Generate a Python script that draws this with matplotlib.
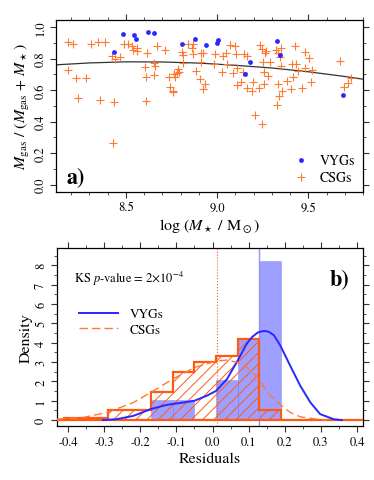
import numpy as np
import matplotlib.pyplot as plt
from matplotlib.ticker import MultipleLocator

plt.rcParams['font.family'] = ['STIXGeneral', 'DejaVu Serif']
plt.rcParams['mathtext.fontset'] = 'stix'
plt.rcParams['axes.unicode_minus'] = False

# --- panel a) data ---
vyg_logm = [8.433, 8.485, 8.542, 8.553, 8.619, 8.652, 8.807, 8.878,
            8.936, 8.998, 9.005, 9.155, 9.179, 9.330, 9.345, 9.692]
vyg_frac = [0.843, 0.958, 0.947, 0.924, 0.966, 0.962, 0.889, 0.924,
            0.884, 0.899, 0.916, 0.702, 0.780, 0.912, 0.824, 0.566]

csg_logm = [8.181, 8.208, 8.308, 8.348, 8.385, 8.425, 8.440, 8.467, 8.491, 8.509,
            8.531, 8.540, 8.181, 8.226, 8.281, 8.236, 8.358, 8.436, 8.429, 8.562,
            8.562, 8.613, 8.671, 8.715, 8.805, 8.814, 8.838, 8.865, 8.861, 8.868,
            8.909, 8.923, 8.653, 8.659, 8.604, 8.814, 8.909, 8.608, 8.653, 8.737,
            8.768, 8.763, 8.786, 8.790, 8.778, 8.741, 8.759, 8.756, 8.883, 8.905,
            8.934, 8.920, 8.609, 8.987, 9.033, 9.047, 9.069, 9.097, 9.102, 9.148,
            9.166, 9.233, 9.243, 9.261, 9.270, 9.325, 9.334, 9.352, 8.983, 9.051,
            9.109, 9.029, 9.087, 9.142, 9.252, 9.257, 9.288, 9.279, 9.348, 9.106,
            9.133, 9.161, 9.197, 9.193, 9.228, 9.257, 9.334, 9.355, 9.330, 9.208,
            9.243, 9.339, 9.425, 9.480, 9.503, 9.412, 9.434, 9.443, 9.480, 9.520,
            9.416, 9.380, 9.516, 9.467, 9.407, 9.671, 9.717, 9.735, 9.695, 9.343]
csg_frac = [0.903, 0.893, 0.889, 0.903, 0.903, 0.819, 0.794, 0.811, 0.889, 0.889,
            0.878, 0.851, 0.725, 0.677, 0.677, 0.549, 0.536, 0.526, 0.264, 0.865,
            0.847, 0.836, 0.882, 0.851, 0.840, 0.821, 0.889, 0.893, 0.864, 0.830,
            0.832, 0.832, 0.774, 0.752, 0.746, 0.769, 0.777, 0.686, 0.694, 0.686,
            0.686, 0.700, 0.731, 0.714, 0.711, 0.620, 0.589, 0.595, 0.721, 0.673,
            0.637, 0.606, 0.530, 0.830, 0.819, 0.836, 0.884, 0.882, 0.826, 0.830,
            0.819, 0.884, 0.862, 0.836, 0.845, 0.853, 0.836, 0.868, 0.767, 0.767,
            0.738, 0.717, 0.711, 0.714, 0.777, 0.717, 0.780, 0.689, 0.752, 0.633,
            0.652, 0.612, 0.652, 0.595, 0.612, 0.637, 0.637, 0.595, 0.505, 0.442,
            0.386, 0.564, 0.882, 0.843, 0.805, 0.763, 0.767, 0.721, 0.742, 0.727,
            0.686, 0.658, 0.654, 0.616, 0.610, 0.784, 0.648, 0.679, 0.620, 0.811]

fit_logm = [8.117, 8.3, 8.5, 8.7, 8.9, 9.1, 9.3, 9.5, 9.7, 9.8]
fit_frac = [0.760, 0.772, 0.779, 0.778, 0.771, 0.757, 0.740, 0.716, 0.686, 0.669]

# --- panel b) data ---
bin_edges = [-0.41, -0.35, -0.29, -0.23, -0.17, -0.11, -0.05, 0.01, 0.07, 0.13, 0.19]
csg_density = [0.12, 0.12, 0.54, 0.54, 1.43, 2.47, 3.0, 3.29, 4.2, 0.54]
vyg_density = [0, 0, 0, 0, 1.04, 1.04, 0, 2.08, 4.17, 8.22]

vyg_kde_x = [-0.304, -0.265, -0.219, -0.171, -0.126, -0.080, -0.050, -0.016, 0.010,
             0.040, 0.069, 0.095, 0.110, 0.125, 0.137, 0.147, 0.157, 0.170, 0.188,
             0.215, 0.243, 0.271, 0.298, 0.335, 0.358]
vyg_kde_y = [0.0, 0.05, 0.22, 0.57, 0.79, 0.91, 1.0, 1.26, 1.51, 2.12, 3.06, 3.95,
             4.30, 4.52, 4.59, 4.60, 4.55, 4.38, 3.84, 2.81, 1.77, 0.91, 0.31, 0.05, 0.0]
csg_kde_x = [-0.431, -0.357, -0.291, -0.219, -0.171, -0.110, -0.050, 0.010, 0.040,
             0.069, 0.095, 0.129, 0.151, 0.188, 0.215, 0.243, 0.289, 0.317]
csg_kde_y = [0.05, 0.14, 0.40, 0.91, 1.43, 2.12, 2.72, 3.05, 3.10, 2.98, 2.72, 2.12,
             1.43, 0.79, 0.40, 0.17, 0.05, 0.0]
csg_median = 0.012
vyg_median = 0.129

blue = '#2828ff'
orange = '#ff7a30'
orange_dark = '#ff5a14'

fig = plt.figure(figsize=(3.74, 4.81), dpi=100)
ax1 = fig.add_axes([0.150, 0.599, 0.821, 0.357])
ax2 = fig.add_axes([0.152, 0.112, 0.819, 0.370])

def style(ax):
    ax.tick_params(which='both', direction='out', top=True, right=True,
                   color='#333333', labelsize=9, pad=3)
    ax.tick_params(which='major', length=4)
    ax.tick_params(which='minor', length=2.2)
    for s in ax.spines.values():
        s.set_linewidth(0.9)

# panel a)
ax1.scatter(csg_logm, csg_frac, marker='+', s=30, color=orange, linewidths=0.8,
            label='CSGs', zorder=2)
ax1.scatter(vyg_logm, vyg_frac, marker='o', s=12, color=blue, linewidths=0,
            label='VYGs', zorder=3)
ax1.plot(fit_logm, fit_frac, color='#333333', lw=0.9, zorder=1)
ax1.set_xlim(8.117, 9.80)
ax1.set_ylim(-0.045, 1.043)
ax1.xaxis.set_major_locator(MultipleLocator(0.5))
ax1.xaxis.set_minor_locator(MultipleLocator(0.1))
ax1.yaxis.set_major_locator(MultipleLocator(0.2))
ax1.yaxis.set_minor_locator(MultipleLocator(0.1))
style(ax1)
for t in ax1.get_yticklabels():
    t.set_rotation(90)
    t.set_va('center')
ax1.set_xlabel(r'log ($M_\star$ / M$_\odot$)', fontsize=11.5, labelpad=2)
ax1.set_ylabel(r'$M_{\rm gas}$ / ($M_{\rm gas}$ + $M_\star$)', fontsize=11.5, labelpad=2)
ax1.text(0.035, 0.05, 'a)', transform=ax1.transAxes, fontsize=16, fontweight='bold')
h, l = ax1.get_legend_handles_labels()
ax1.legend(h[::-1], l[::-1], loc='lower right', frameon=False, fontsize=10,
           handletextpad=0.3, borderaxespad=0.2, labelspacing=0.25, scatterpoints=1)

# panel b)
ax2.hist(bin_edges[:-1], bins=bin_edges, weights=vyg_density, color='#4040ff',
         alpha=0.5, edgecolor='#8080ff', linewidth=0.6, zorder=1)
plt.rcParams['hatch.linewidth'] = 0.7
plt.rcParams['hatch.color'] = orange_dark
ax2.hist(bin_edges[:-1], bins=bin_edges, weights=csg_density, histtype='stepfilled',
         facecolor='none', edgecolor=orange_dark, hatch='///', linewidth=0, zorder=2)
ax2.hist(bin_edges[:-1], bins=bin_edges, weights=csg_density, histtype='step',
         color=orange_dark, linewidth=1.6, zorder=3)
ax2.axhline(0, color=orange_dark, lw=1.6, zorder=3)
ax2.axvline(csg_median, color=orange_dark, lw=0.8, ls=':', zorder=2)
ax2.axvline(vyg_median, color='#9090ff', lw=1.0, zorder=2)
ax2.plot(vyg_kde_x, vyg_kde_y, color=blue, lw=1.4, label='VYGs', zorder=4)
ax2.plot(csg_kde_x, csg_kde_y, color=orange, lw=1.0, ls=(0, (6, 3)), label='CSGs', zorder=4)
ax2.set_xlim(-0.431, 0.417)
ax2.set_ylim(-0.31, 8.88)
ax2.xaxis.set_major_locator(MultipleLocator(0.1))
ax2.xaxis.set_minor_locator(MultipleLocator(0.05))
ax2.yaxis.set_major_locator(MultipleLocator(1))
ax2.yaxis.set_minor_locator(MultipleLocator(0.5))
style(ax2)
ax2.set_xticks(ax2.get_xticks())
ax2.set_xticklabels([f'{v:.1f}'.replace('-0.0', '0.0') for v in ax2.get_xticks()])
ax2.set_xlim(-0.431, 0.417)
for t in ax2.get_yticklabels():
    t.set_rotation(90)
    t.set_va('center')
ax2.set_xlabel('Residuals', fontsize=11.5, labelpad=3)
ax2.set_ylabel('Density', fontsize=11.5, labelpad=2)
ax2.text(0.055, 0.81, r'KS $p$-value = 2$\times$10$^{-4}$', transform=ax2.transAxes, fontsize=9)
ax2.text(0.955, 0.79, 'b)', transform=ax2.transAxes, fontsize=16, fontweight='bold',
         ha='right')
ax2.legend(loc='upper left', bbox_to_anchor=(0.035, 0.73), frameon=False, fontsize=9.5,
           handlelength=2.9, handletextpad=0.9, labelspacing=0.25)

fig.savefig('out.png', dpi=100)
